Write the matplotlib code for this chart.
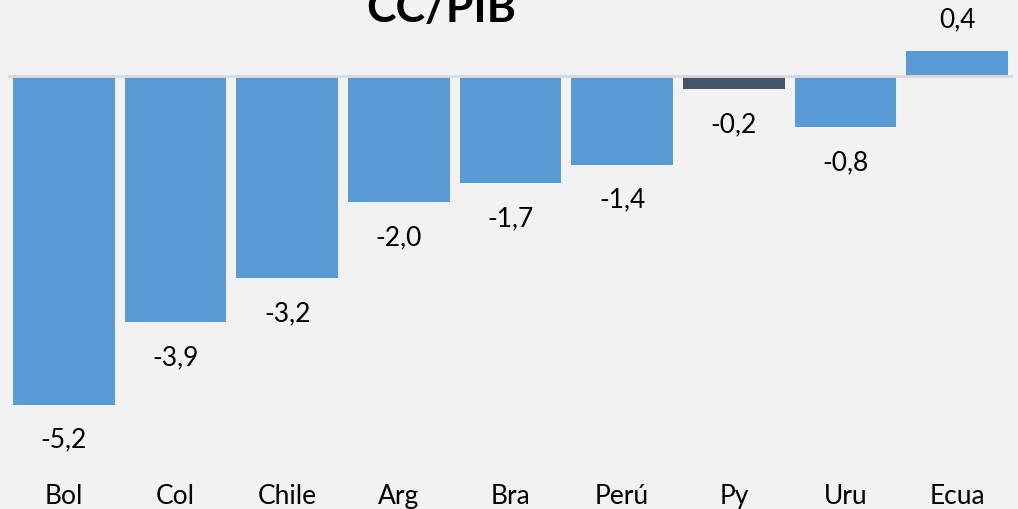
import matplotlib
matplotlib.use("Agg")
import matplotlib.pyplot as plt

categories = ["Bol", "Col", "Chile", "Arg", "Bra", "Perú", "Py", "Uru", "Ecua"]
values = [-5.2, -3.9, -3.2, -2.0, -1.7, -1.4, -0.2, -0.8, 0.4]
highlight = "Py"
title = "CC/PIB"

BLUE = "#5b9bd5"
DARK = "#44546a"
BG = "#f2f2f2"

plt.rcParams['font.family'] = ['Lato', 'DejaVu Sans']

W, H = 1018, 510
fig = plt.figure(figsize=(W / 100, H / 100), dpi=100, facecolor=BG)
ax = fig.add_axes([8 / W, (H - 470) / H, (1013 - 8) / W, 470 / H])
ax.set_facecolor(BG)

x = list(range(len(categories)))
colors = [DARK if c == highlight else BLUE for c in categories]
bars = ax.bar(x, values, width=0.91, color=colors, zorder=2)
ax.axhline(0, color="#d9d9d9", lw=2, zorder=3)

ax.set_xlim(-0.5, len(categories) - 0.5)
ax.set_ylim(-6.22, 1.22)

for xi, v in zip(x, values):
    txt = f"{v:.1f}".replace(".", ",")
    off = 23 if v > 0 else -25
    ax.annotate(txt, (xi, v), xytext=(0, off), textcoords="offset points",
                ha="center", va="center", fontsize=19, color="black")

ax.set_xticks(x)
ax.set_xticklabels(categories, fontsize=19)
ax.tick_params(axis="x", length=0, pad=10)
ax.set_yticks([])
for s in ax.spines.values():
    s.set_visible(False)

fig.text(441 / W, 1 - 22 / H, title, ha="center", va="baseline",
         fontsize=32, fontweight="bold", color="black")

fig.savefig("out.png", dpi=100, facecolor=BG)
